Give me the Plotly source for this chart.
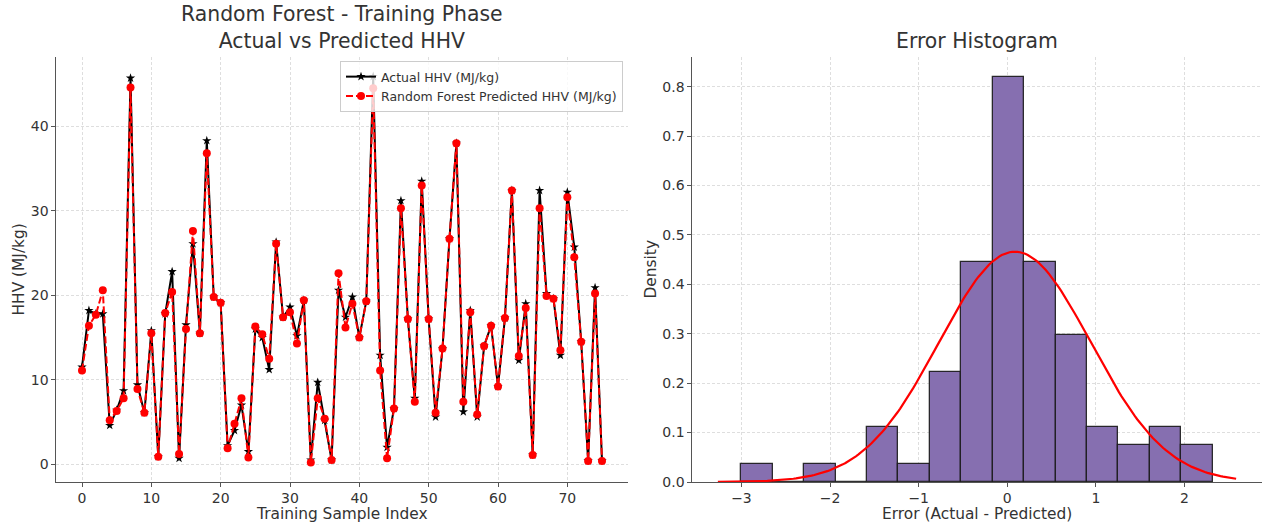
import numpy as np
import plotly.graph_objects as go
from plotly.subplots import make_subplots

# ---- Data ----
sample_index = list(range(76))
actual_hhv = [11.5, 18.2, 17.8, 17.8, 4.6, 6.4, 8.7, 45.7, 9.4, 6.1,
              15.8, 0.9, 17.8, 22.8, 0.7, 16.5, 26.1, 15.5, 38.3, 19.8,
              19.1, 2.2, 4.0, 7.0, 1.5, 16.0, 15.0, 11.2, 26.3, 17.4,
              18.6, 15.2, 19.4, 0.5, 9.7, 5.2, 0.5, 20.6, 17.4, 19.8,
              15.0, 19.3, 45.9, 12.9, 2.0, 6.6, 31.2, 17.2, 7.8, 33.5,
              17.2, 5.6, 13.7, 26.7, 38.0, 6.2, 18.2, 5.6, 14.0, 16.4,
              9.2, 17.3, 32.4, 12.3, 19.0, 1.1, 32.4, 20.2, 19.6, 12.9,
              32.2, 25.7, 14.5, 0.4, 20.9, 0.4]
predicted_hhv = [11.1, 16.4, 17.7, 20.6, 5.2, 6.3, 7.8, 44.6, 8.9, 6.1,
                 15.5, 0.9, 17.9, 20.4, 1.2, 16.0, 27.6, 15.5, 36.8, 19.8,
                 19.1, 1.9, 4.8, 7.8, 0.8, 16.3, 15.4, 12.5, 26.1, 17.4,
                 18.0, 14.3, 19.4, 0.2, 7.8, 5.4, 0.5, 22.6, 16.2, 19.0,
                 15.0, 19.3, 44.5, 11.1, 0.7, 6.6, 30.3, 17.2, 7.4, 33.0,
                 17.2, 6.1, 13.7, 26.7, 38.0, 7.4, 18.0, 5.9, 14.0, 16.4,
                 9.2, 17.3, 32.4, 12.8, 18.5, 1.1, 30.3, 19.9, 19.6, 13.5,
                 31.6, 24.5, 14.5, 0.4, 20.2, 0.4]

hist_bin_edges = [-3.000, -2.646, -2.291, -1.937, -1.582, -1.228, -0.874, -0.519,
                  -0.165, 0.190, 0.544, 0.898, 1.253, 1.607, 1.962, 2.316]
hist_density = [0.037, 0.0, 0.037, 0.0, 0.112, 0.037, 0.223, 0.446,
                0.819, 0.446, 0.298, 0.112, 0.074, 0.112, 0.074]
fit_mean = 0.085
fit_std = 0.856
fit_x_range = [-3.266, 2.582]

left_xticks = [0, 10, 20, 30, 40, 50, 60, 70]
left_yticks = [0, 10, 20, 30, 40]
right_xticks = [-3, -2, -1, 0, 1, 2]
right_yticks = [0.0, 0.1, 0.2, 0.3, 0.4, 0.5, 0.6, 0.7, 0.8]

# ---- Figure ----
W, H = 1263, 522
FONT = "DejaVu Sans"
TXT = "#333333"
AX = "#555555"
GRID = "rgba(0,0,0,0.13)"

fig = make_subplots(rows=1, cols=2)

fig.add_trace(go.Scatter(
    x=sample_index, y=actual_hhv, mode="lines+markers",
    name="Actual HHV (MJ/kg)",
    line=dict(color="black", width=2),
    marker=dict(symbol="star", size=7, color="black"),
), row=1, col=1)

fig.add_trace(go.Scatter(
    x=sample_index, y=predicted_hhv, mode="lines+markers",
    name="Random Forest Predicted HHV (MJ/kg)",
    line=dict(color="red", width=2, dash="7px,3px"),
    marker=dict(symbol="circle", size=8, color="red"),
), row=1, col=1)

centers = [(a + b) / 2 for a, b in zip(hist_bin_edges[:-1], hist_bin_edges[1:])]
widths = [b - a for a, b in zip(hist_bin_edges[:-1], hist_bin_edges[1:])]
fig.add_trace(go.Bar(
    x=centers, y=hist_density, width=widths, showlegend=False,
    marker=dict(color="#866FB0", line=dict(color="rgba(25,25,25,0.9)", width=1.3)),
), row=1, col=2)

xs = np.linspace(fit_x_range[0], fit_x_range[1], 200)
pdf = np.exp(-0.5 * ((xs - fit_mean) / fit_std) ** 2) / (fit_std * np.sqrt(2 * np.pi))
fig.add_trace(go.Scatter(
    x=xs, y=pdf, mode="lines", showlegend=False,
    line=dict(color="red", width=2.2),
), row=1, col=2)

def px_x(p):
    return p / W

def px_y(p):
    return (H - p) / H

axis_common = dict(
    showline=True, linecolor=AX, linewidth=1.3, mirror=False,
    ticks="outside", ticklen=3.5, tickcolor=AX, tickwidth=1,
    showgrid=True, gridcolor=GRID, gridwidth=0.8, griddash="3px,2px",
    zeroline=False, automargin=False,
    tickfont=dict(family=FONT, size=14, color=TXT),
)

fig.update_layout(
    width=W, height=H, margin=dict(l=0, r=0, t=0, b=0, autoexpand=False),
    paper_bgcolor="white", plot_bgcolor="white",
    font=dict(family=FONT, color=TXT),
    bargap=0,
    xaxis=dict(domain=[px_x(56), px_x(628)], range=[-3.75, 78.75],
               tickvals=left_xticks, **axis_common),
    yaxis=dict(domain=[px_y(482), px_y(57)], range=[-2.1, 48.2],
               tickvals=left_yticks, **axis_common),
    xaxis2=dict(domain=[px_x(692), px_x(1262)], range=[-3.558, 2.874],
                tickvals=right_xticks, **axis_common),
    yaxis2=dict(domain=[px_y(482), px_y(57)], range=[0, 0.86],
                tickvals=right_yticks, tickformat=".1f", **axis_common),
    legend=dict(
        x=px_x(623), y=px_y(61), xanchor="right", yanchor="top",
        bgcolor="rgba(255,255,255,0.8)", bordercolor="#cccccc", borderwidth=1,
        font=dict(family=FONT, size=12.5, color=TXT),
        tracegroupgap=0, itemwidth=30,
    ),
)

label_font = dict(family=FONT, size=15.4, color=TXT)
title_font = dict(family=FONT, size=20.4, color=TXT)
annotations = [
    dict(text="Random Forest - Training Phase<br>Actual vs Predicted HHV",
         xref="x domain", yref="paper", x=0.5, y=px_y(55), xanchor="center", yanchor="bottom",
         showarrow=False, font=title_font),
    dict(text="Error Histogram",
         xref="x2 domain", yref="paper", x=0.5, y=px_y(55), xanchor="center", yanchor="bottom",
         showarrow=False, font=title_font),
    dict(text="Training Sample Index", xref="x domain", yref="paper",
         x=0.5, y=px_y(514), xanchor="center", yanchor="middle", showarrow=False, font=label_font),
    dict(text="Error (Actual - Predicted)", xref="x2 domain", yref="paper",
         x=0.5, y=px_y(514), xanchor="center", yanchor="middle", showarrow=False, font=label_font),
    dict(text="HHV (MJ/kg)", xref="paper", yref="y domain", textangle=-90,
         x=px_x(18), y=0.5, xanchor="center", yanchor="middle", showarrow=False, font=label_font),
    dict(text="Density", xref="paper", yref="y2 domain", textangle=-90,
         x=px_x(650), y=0.5, xanchor="center", yanchor="middle", showarrow=False, font=label_font),
]
fig.update_layout(annotations=annotations)

fig.write_html("out.html",
               config={"displayModeBar": False},
               post_script="document.body.style.margin='0px';document.body.style.overflow='hidden';")
